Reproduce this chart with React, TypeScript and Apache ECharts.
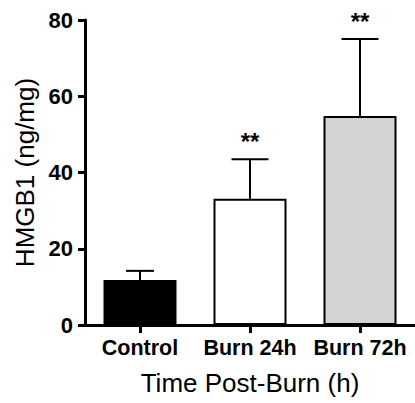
import React, { useEffect, useRef } from "react";
import * as echarts from "echarts";

const categories = ["Control", "Burn 24h", "Burn 72h"];
const means = [11.8, 33.1, 54.8];
const errorTops = [14.2, 43.5, 75.0];
const significance = ["", "**", "**"];
const yTicks = [0, 20, 40, 60, 80];

const FONT = "'Liberation Sans', Arial, Helvetica, sans-serif";
const barFills = ["#000000", "#ffffff", "#d3d3d3"];

export default function App() {
  const ref = useRef<HTMLDivElement>(null);
  useEffect(() => {
    document.body.style.margin = "0";
    if (!ref.current) return;
    const chart = echarts.init(ref.current, null, { renderer: "svg" });
    const option: any = {
      animation: false,
      backgroundColor: "#ffffff",
      grid: { left: 85, top: 20, width: 334, height: 305, containLabel: false },
      xAxis: {
        type: "category",
        data: categories,
        boundaryGap: true,
        name: "Time Post-Burn (h)",
        nameLocation: "middle",
        nameGap: 45,
        nameTextStyle: { fontFamily: FONT, fontSize: 26, color: "#000" },
        axisLine: { show: true, lineStyle: { color: "#000", width: 3 } },
        axisTick: { show: true, alignWithLabel: true, length: 8, lineStyle: { color: "#000", width: 3 } },
        axisLabel: { interval: 0, hideOverlap: false, fontFamily: FONT, fontSize: 21.5, fontWeight: "bold", color: "#000", margin: 12 },
        splitLine: { show: false },
      },
      yAxis: {
        type: "value",
        min: yTicks[0],
        max: yTicks[yTicks.length - 1],
        interval: 20,
        name: "HMGB1 (ng/mg)",
        nameLocation: "middle",
        nameGap: 43,
        nameTextStyle: { fontFamily: FONT, fontSize: 26, color: "#000" },
        axisLine: { show: true, lineStyle: { color: "#000", width: 3 } },
        axisTick: { show: true, length: 7, lineStyle: { color: "#000", width: 3 } },
        axisLabel: { fontFamily: FONT, fontSize: 22, fontWeight: "bold", color: "#000", margin: 12 },
        splitLine: { show: false },
      },
      series: [
        {
          type: "bar",
          barWidth: 73,
          data: means.map((v, i) => ({
            value: v,
            itemStyle: { color: barFills[i], borderColor: "#000", borderWidth: 2 },
          })),
        },
        {
          type: "custom",
          clip: false,
          data: categories.map((_, i) => [i, means[i], errorTops[i]]),
          renderItem: (params: any, api: any) => {
            const idx = api.value(0);
            const base = api.coord([idx, api.value(1)]);
            const top = api.coord([idx, api.value(2)]);
            const half = idx === 0 ? 14 : 18.5;
            const children: any[] = [
              {
                type: "line",
                shape: { x1: base[0], y1: base[1], x2: top[0], y2: top[1] },
                style: { stroke: "#000", lineWidth: 2 },
              },
              {
                type: "line",
                shape: { x1: top[0] - half, y1: top[1], x2: top[0] + half, y2: top[1] },
                style: { stroke: "#000", lineWidth: 2 },
              },
            ];
            const sig = significance[idx];
            if (sig) {
              children.push({
                type: "text",
                x: top[0],
                y: top[1] - 18,
                style: {
                  text: sig,
                  fill: "#000",
                  font: `bold 24px ${FONT}`,
                  textAlign: "center",
                  textVerticalAlign: "middle",
                },
              });
            }
            return { type: "group", children };
          },
        },
      ],
    };
    chart.setOption(option);
    return () => chart.dispose();
  }, []);
  return <div ref={ref} style={{ width: 415, height: 403 }} />;
}
